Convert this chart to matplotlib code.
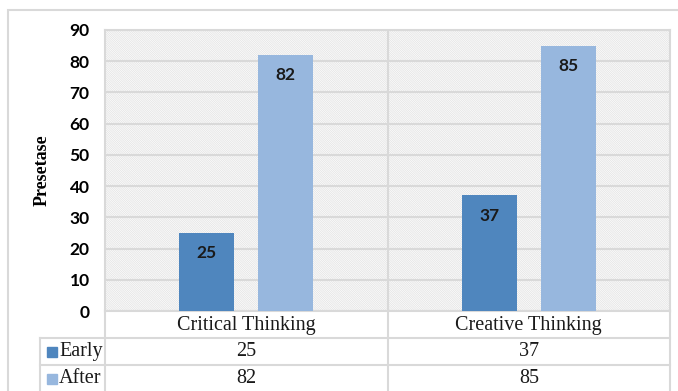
import matplotlib.pyplot as plt
import numpy as np
from matplotlib.patches import Rectangle

categories = ["Critical Thinking", "Creative Thinking"]
series_names = ["Early", "After"]
early = [25, 37]
after = [82, 85]
y_ticks = [0, 10, 20, 30, 40, 50, 60, 70, 80, 90]

colors = ["#4f86be", "#97b7de"]
grid_c = "#d9d9d9"

plt.rcParams['hatch.linewidth'] = 0.4

W, H = 678, 391
fig = plt.figure(figsize=(W / 100, H / 100), dpi=100)

# plot area in pixels
left, right, top, bottom = 105, 670, 30, 311
ax = fig.add_axes([left / W, 1 - bottom / H, (right - left) / W, (bottom - top) / H])

# outer chart border
fig.add_artist(Rectangle((8 / W, -0.1), 1.2, (H - 10) / H + 0.1, transform=fig.transFigure,
                         fill=False, edgecolor=grid_c, lw=1.5))

# hatched plot background
ax.add_patch(Rectangle((0, 0), 1, 1, transform=ax.transAxes, facecolor="white",
                       edgecolor="#dcdcdc", hatch="\\" * 18, lw=0, zorder=0))

x = np.arange(len(categories))
w = 0.195
off = 0.14
vals = [early, after]
for i, (name, v) in enumerate(zip(series_names, vals)):
    xs = x + (-off if i == 0 else off)
    ax.bar(xs, v, width=w, color=colors[i], zorder=3)
    for xx, vv in zip(xs, v):
        ax.annotate(str(vv), (xx, vv), xytext=(0, -14.5), textcoords="offset points",
                    ha="center", va="center", fontsize=12.5, fontweight="bold",
                    family="Lato", color="#1a1a1a", zorder=4)

ax.set_xlim(-0.5, len(categories) - 0.5)
ax.set_ylim(0, 90)
ax.set_yticks(y_ticks)
ax.set_yticklabels([str(t) for t in y_ticks], fontsize=12.5, fontweight="bold", family="Lato")
ax.tick_params(axis="y", length=0, pad=11)
ax.set_xticks([])
ax.set_facecolor("none")
ax.grid(axis="y", color=grid_c, lw=1.5, zorder=1)
ax.set_axisbelow(True)
for s in ax.spines.values():
    s.set_color(grid_c)
    s.set_linewidth(1.5)

# vertical separators between categories
for b in np.arange(0.5, len(categories) - 0.5, 1.0):
    ax.axvline(b, color=grid_c, lw=1.5, zorder=1)

ax.set_ylabel("Presetase", family="Liberation Serif", fontsize=13, fontweight="bold",
              labelpad=14)

# data table under the plot
row_h = 27 / (bottom - top)
tab_left = (40 - left) / (right - left)
trans = ax.get_xaxis_transform()
lk = dict(color=grid_c, lw=1.5, clip_on=False, zorder=5)

# horizontal lines
for r in [1, 2]:
    ax.plot([tab_left, 1], [-r * row_h] * 2, transform=ax.transAxes, **lk)
# vertical lines
ax.plot([tab_left, tab_left], [-row_h, -3.5 * row_h], transform=ax.transAxes, **lk)
for b in np.arange(-0.5, len(categories), 1.0):
    ax.plot([b, b], [0, -3.5 * row_h], transform=trans, **lk)

serif = dict(family="Liberation Serif", fontsize=14.5, color="#1a1a1a")
for xx, c in zip(x, categories):
    ax.text(xx, -0.55 * row_h, c, transform=trans, ha="center", va="center", **serif)
for r, (name, v) in enumerate(zip(series_names, vals)):
    yc = -(r + 1.5) * row_h
    for xx, vv in zip(x, v):
        ax.text(xx, yc, str(vv), transform=trans, ha="center", va="center", **serif)
    ax.add_patch(Rectangle((tab_left + 7 / (right - left), yc - 5 / (bottom - top)),
                           10 / (right - left), 10 / (bottom - top), transform=ax.transAxes,
                           color=colors[r], clip_on=False))
    ax.text(tab_left + 19 / (right - left), yc, name, transform=ax.transAxes,
            ha="left", va="center", **serif)

fig.savefig("out.png", dpi=100)
